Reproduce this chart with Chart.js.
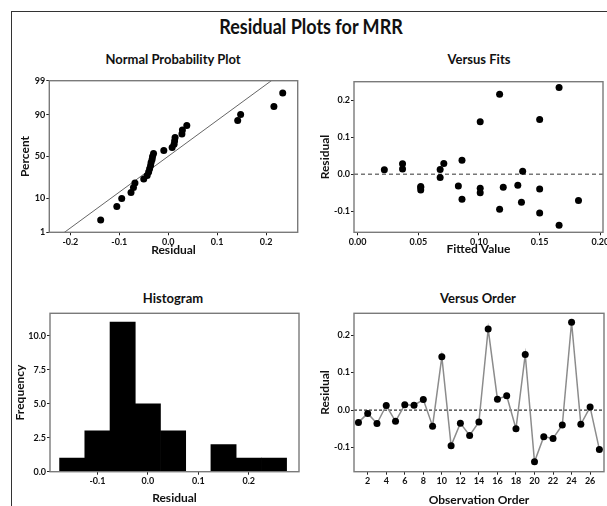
<!DOCTYPE html>
<html>
<head>
<meta charset="utf-8">
<script src="https://cdn.jsdelivr.net/npm/chart.js@4.4.1/dist/chart.umd.min.js"></script>
<style>
  body { margin: 0; width: 607px; height: 506px; overflow: hidden; background: #fff; position: relative; font-family: Lato, "Open Sans", sans-serif; }
  #frame { position: absolute; left: 11px; top: 11px; width: 700px; height: 600px; border-left: 1.5px solid #333; border-top: 1.5px solid #333; }
  .t { position: absolute; font-weight: bold; color: #111; white-space: nowrap; transform: translate(-50%, -50%); }
  canvas { position: absolute; }
</style>
</head>
<body>
<div id="frame"></div>
<div class="t" style="left:311px;top:26px;font-size:20px;transform:translate(-50%,-50%) scaleX(0.9)">Residual Plots for MRR</div>
<div class="t" style="left:173px;top:59px;font-size:13px">Normal Probability Plot</div>
<div class="t" style="left:479px;top:59px;font-size:13px">Versus Fits</div>
<div class="t" style="left:173px;top:298px;font-size:13px">Histogram</div>
<div class="t" style="left:478px;top:298px;font-size:13px">Versus Order</div>

<canvas id="npp" style="left:14px;top:70px" width="294" height="192"></canvas>
<canvas id="fits" style="left:314px;top:70px" width="306" height="192"></canvas>
<canvas id="hist" style="left:14px;top:300px" width="295" height="206"></canvas>
<canvas id="order" style="left:314px;top:300px" width="306" height="208"></canvas>

<script>
// data
const observation = [1, 2, 3, 4, 5, 6, 7, 8, 9, 10, 11, 12, 13, 14, 15, 16, 17, 18, 19, 20, 21, 22, 23, 24, 25, 26, 27];
const residuals = [-0.033, -0.009, -0.036, 0.012, -0.030, 0.014, 0.013, 0.028, -0.043, 0.142,
                   -0.095, -0.035, -0.068, -0.032, 0.216, 0.029, 0.038, -0.050, 0.148, -0.138,
                   -0.071, -0.076, -0.040, 0.234, -0.038, 0.008, -0.105];
const fittedValues = [0.052, 0.068, 0.052, 0.022, 0.132, 0.037, 0.068, 0.037, 0.052, 0.101,
                      0.117, 0.120, 0.086, 0.083, 0.117, 0.071, 0.086, 0.101, 0.150, 0.166,
                      0.182, 0.135, 0.150, 0.166, 0.101, 0.136, 0.150];
const histBinCenters = [-0.15, -0.10, -0.05, 0.00, 0.05, 0.10, 0.15, 0.20, 0.25];
const histCounts = [1, 3, 11, 5, 3, 0, 2, 1, 1];
const percentTicks = [1, 10, 50, 90, 99];
const residualTicks = [-0.2, -0.1, 0.0, 0.1, 0.2];
const fitTicks = [0.00, 0.05, 0.10, 0.15, 0.20];
const freqTicks = [0, 2.5, 5, 7.5, 10];
const orderTicks = [2, 4, 6, 8, 10, 12, 14, 16, 18, 20, 22, 24, 26];

// inverse standard normal (Acklam)
function normInv(p) {
  const a = [-39.69683028665376, 220.9460984245205, -275.9285104469687, 138.3577518672690, -30.66479806614716, 2.506628277459239];
  const b = [-54.47609879822406, 161.5858368580409, -155.6989798598866, 66.80131188771972, -13.28068155288572];
  const c = [-0.007784894002430293, -0.3223964580411365, -2.400758277161838, -2.549732539343734, 4.374664141464968, 2.938163982698783];
  const d = [0.007784695709041462, 0.3224671290700398, 2.445134137142996, 3.754408661907416];
  const pl = 0.02425;
  let q, r;
  if (p < pl) {
    q = Math.sqrt(-2 * Math.log(p));
    return (((((c[0]*q+c[1])*q+c[2])*q+c[3])*q+c[4])*q+c[5]) / ((((d[0]*q+d[1])*q+d[2])*q+d[3])*q+1);
  }
  if (p > 1 - pl) {
    q = Math.sqrt(-2 * Math.log(1 - p));
    return -(((((c[0]*q+c[1])*q+c[2])*q+c[3])*q+c[4])*q+c[5]) / ((((d[0]*q+d[1])*q+d[2])*q+d[3])*q+1);
  }
  q = p - 0.5; r = q * q;
  return (((((a[0]*r+a[1])*r+a[2])*r+a[3])*r+a[4])*r+a[5])*q / (((((b[0]*r+b[1])*r+b[2])*r+b[3])*r+b[4])*r+1);
}

const tickFont = { family: 'Lato, "Open Sans", sans-serif', size: 9, weight: 'bold' };
const titleFont = { family: 'Lato, "Open Sans", sans-serif', size: 12, weight: 'bold' };

// draws the grey box round the plot area
const boxPlugin = {
  id: 'box',
  afterDatasetsDraw(chart) {
    const a = chart.chartArea, ctx = chart.ctx;
    ctx.save();
    ctx.strokeStyle = '#7a7a7a';
    ctx.lineWidth = 1.4;
    ctx.strokeRect(a.left, a.top, a.right - a.left, a.bottom - a.top);
    ctx.restore();
  }
};

function axis(pos, min, max, ticks, size, fmt, title, titlePad) {
  return {
    type: 'linear', position: pos, min: min, max: max, offset: false,
    afterBuildTicks: s => { s.ticks = ticks.map(v => ({ value: v })); },
    afterFit: s => { if (pos === 'left') s.width = size; else s.height = size; },
    grid: { drawOnChartArea: false, drawTicks: true, tickLength: 3, color: '#222', offset: false },
    border: { display: false },
    ticks: { callback: fmt, font: tickFont, color: '#111', padding: 1, maxRotation: 0, autoSkip: false },
    title: { display: true, text: title, font: titleFont, color: '#111', padding: { top: titlePad, bottom: titlePad } }
  };
}

function baseOptions(scales, pad) {
  return {
    responsive: false, animation: false,
    layout: { padding: pad },
    plugins: { legend: { display: false }, tooltip: { enabled: false } },
    scales: scales
  };
}

const dotStyle = { pointRadius: 3.5, pointBackgroundColor: '#000', pointBorderWidth: 0, pointHoverRadius: 3.5 };

// normal probability plot
const n = residuals.length;
const sorted = residuals.slice().sort((p, q) => p - q);
const mean = residuals.reduce((s, v) => s + v, 0) / n;
const sd = Math.sqrt(residuals.reduce((s, v) => s + (v - mean) * (v - mean), 0) / (n - 1));
const zLo = normInv(percentTicks[0] / 100), zHi = normInv(percentTicks[percentTicks.length - 1] / 100);

new Chart(document.getElementById('npp'), {
  type: 'scatter',
  data: {
    datasets: [
      { data: sorted.map((r, i) => ({ x: r, y: normInv((i + 1 - 0.3) / (n + 0.4)) })), ...dotStyle },
      { type: 'line', data: [{ x: mean + sd * zLo * 1.2, y: zLo * 1.2 }, { x: mean + sd * zHi * 1.2, y: zHi * 1.2 }],
        borderColor: '#666', borderWidth: 1, pointRadius: 0 }
    ]
  },
  options: baseOptions({
    x: axis('bottom', -0.243, 0.2646, residualTicks, 29.7, v => v.toFixed(1), 'Residual', 5),
    y: axis('left', zLo, zHi, percentTicks.map(p => normInv(p / 100)), 35.3,
            (v, i) => String(percentTicks[i]), 'Percent', 3.8)
  }, { top: 10.7, right: 10.3, bottom: 0, left: 0 }),
  plugins: [boxPlugin]
});

// versus fits
const fitsMin = -0.003, fitsMax = 0.2022;
new Chart(document.getElementById('fits'), {
  type: 'scatter',
  data: {
    datasets: [
      { data: fittedValues.map((f, i) => ({ x: f, y: residuals[i] })), ...dotStyle },
      { type: 'line', data: [{ x: fitsMin, y: 0 }, { x: fitsMax, y: 0 }],
        borderColor: '#777', borderWidth: 1.6, borderDash: [4, 3], pointRadius: 0 }
    ]
  },
  options: baseOptions({
    x: axis('bottom', fitsMin, fitsMax, fitTicks, 29.7, v => v.toFixed(2), 'Fitted Value', 6),
    y: axis('left', -0.157, 0.25, [-0.1, 0, 0.1, 0.2], 40, v => v.toFixed(1), 'Residual', 3.8)
  }, { top: 11.7, right: 17, bottom: 0, left: 0 }),
  plugins: [boxPlugin]
});

// histogram
new Chart(document.getElementById('hist'), {
  type: 'bar',
  data: {
    datasets: [
      { data: histBinCenters.map((c, i) => ({ x: c, y: histCounts[i] })),
        backgroundColor: '#000', borderWidth: 0, barPercentage: 1, categoryPercentage: 1 }
    ]
  },
  options: baseOptions({
    x: axis('bottom', -0.194, 0.2996, [-0.1, 0, 0.1, 0.2], 34.3, v => v.toFixed(1), 'Residual', 0.5),
    y: axis('left', 0, 11.65, freqTicks, 36, v => v.toFixed(1), 'Frequency', -1.5)
  }, { top: 13.3, right: 10, bottom: 0, left: 0 }),
  plugins: [boxPlugin]
});

// versus order
const orderMin = 0.52, orderMax = 27.5;
new Chart(document.getElementById('order'), {
  type: 'line',
  data: {
    datasets: [
      { data: observation.map((o, i) => ({ x: o, y: residuals[i] })),
        borderColor: '#8c8c8c', borderWidth: 1.5, ...dotStyle },
      { data: [{ x: orderMin, y: 0 }, { x: orderMax, y: 0 }],
        borderColor: '#333', borderWidth: 1.3, borderDash: [3, 2], pointRadius: 0 }
    ]
  },
  options: baseOptions({
    x: axis('bottom', orderMin, orderMax, orderTicks, 36.3, v => String(v), 'Observation Order', 0.8),
    y: axis('left', -0.1645, 0.258, [-0.1, 0, 0.1, 0.2], 40, v => v.toFixed(1), 'Residual', 3.8)
  }, { top: 13.3, right: 16, bottom: 0, left: 0 }),
  plugins: [boxPlugin]
});
</script>
</body>
</html>
